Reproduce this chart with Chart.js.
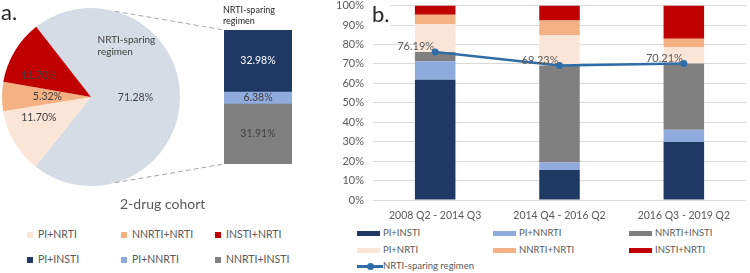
<!DOCTYPE html>
<html><head><meta charset="utf-8">
<script src="https://cdn.jsdelivr.net/npm/chart.js@4.4.1/dist/chart.umd.min.js"></script>
<style>
html,body{margin:0;padding:0;background:#fff;}
#wrap{position:relative;width:750px;height:273px;overflow:hidden;font-family:Lato,'Open Sans',sans-serif;background:#fff;}
canvas{position:absolute;}
.t{position:absolute;white-space:nowrap;line-height:1;}
.lg{position:absolute;white-space:nowrap;color:#595959;line-height:1;}
.sw{display:inline-block;vertical-align:middle;}
</style></head><body><div id="wrap">
<canvas id="pie" width="300" height="200" style="left:0;top:0"></canvas>
<canvas id="sub" width="68" height="134" style="left:224px;top:30px"></canvas>
<canvas id="bars" width="420" height="235" style="left:330px;top:-10px"></canvas>
<div class="t" style="left:1px;top:1px;font-size:22px;color:#262626">a.</div>
<div class="t" style="left:371px;top:1px;font-size:22px;color:#262626;background:#fff;padding:2px 1px">b.</div>
<div class="t" id="subTitle" style="left:223px;top:4px;font-size:9px;color:#262626;line-height:11px"></div>
<div class="t" id="cohort" style="left:120px;top:197px;font-size:14px;color:#595959"></div>
<div id="legL"></div>
<div id="legR"></div>
</div>
<script>
// ---------- data ----------
const pieLabels = ['NRTI-sparing regimen', 'PI+NRTI', 'NNRTI+NRTI', 'INSTI+NRTI'];
const pieValues = [71.28, 11.70, 5.32, 11.70];
const sparingLabels = ['PI+INSTI', 'PI+NNRTI', 'NNRTI+INSTI'];
const sparingValues = [32.98, 6.38, 31.91];
const cohortTitle = '2-drug cohort';
const sparingTitle = ['NRTI-sparing', 'regimen'];

const periods = ['2008 Q2 - 2014 Q3', '2014 Q4 - 2016 Q2', '2016 Q3 - 2019 Q2'];
const piInsti    = [61.90, 15.38, 29.79];
const piNnrti    = [9.52, 3.85, 6.38];
const nnrtiInsti = [4.76, 50.00, 34.04];
const piNrti     = [14.29, 15.38, 8.51];
const nnrtiNrti  = [4.76, 7.69, 4.26];
const instiNrti  = [4.76, 7.69, 17.02];
const sparingLine = [76.19, 69.23, 70.21];
const yTicks = [0, 10, 20, 30, 40, 50, 60, 70, 80, 90, 100];

// ---------- style ----------
const COL = {
  'NRTI-sparing regimen': '#D6DCE5', 'PI+NRTI': '#FBE5D6', 'NNRTI+NRTI': '#F4B183',
  'INSTI+NRTI': '#C00000', 'PI+INSTI': '#1F3864', 'PI+NNRTI': '#8FAADC', 'NNRTI+INSTI': '#808080'
};
const LINE_COL = '#2E6DA7';
const FONT = 'Lato, "Open Sans", sans-serif';
const SUB_BOX = {x: 224, y: 30, w: 68, h: 134};
const PIE_TUNE = [{f: 0.5, a: 0}, {f: 0.63, a: 9}, {f: 0.49, a: 0}, {f: 0.63, a: -9}];
Chart.defaults.font.family = FONT;
Chart.defaults.animation = false;

document.getElementById('subTitle').innerHTML = sparingTitle.join('<br>');
document.getElementById('cohort').textContent = cohortTitle;

// ---------- pie ----------
const pieLabelPlugin = {
  id: 'pieLabels',
  afterDraw(chart) {
    const ctx = chart.ctx;
    const meta = chart.getDatasetMeta(0);
    ctx.save();
    ctx.font = '10.5px ' + FONT;
    ctx.fillStyle = '#404040';
    ctx.textAlign = 'center';
    ctx.textBaseline = 'middle';
    let cx, cy, R;
    meta.data.forEach((arc, i) => {
      const p = arc.getProps(['x', 'y', 'startAngle', 'endAngle', 'outerRadius'], true);
      cx = p.x; cy = p.y; R = p.outerRadius;
      const t = PIE_TUNE[i];
      const mid = (p.startAngle + p.endAngle) / 2 + t.a * Math.PI / 180;
      const x = p.x + Math.cos(mid) * R * t.f, y = p.y + Math.sin(mid) * R * t.f;
      ctx.fillText(pieValues[i].toFixed(2) + '%', x, y);
      if (i === 0) {
        ctx.save();
        ctx.textAlign = 'left';
        ctx.font = '10px ' + FONT;
        ctx.fillText('NRTI-sparing', x - 38, y - 57);
        ctx.fillText('regimen', x - 38, y - 45);
        ctx.restore();
      }
    });
    // connectors to the sub bar
    const ang = 15.5 * Math.PI / 180;
    ctx.strokeStyle = '#A6A6A6';
    ctx.lineWidth = 1;
    ctx.setLineDash([5, 3]);
    ctx.beginPath();
    ctx.moveTo(cx + R * Math.sin(ang), cy - R * Math.cos(ang));
    ctx.lineTo(SUB_BOX.x, SUB_BOX.y);
    ctx.moveTo(cx + R * Math.sin(ang), cy + R * Math.cos(ang));
    ctx.lineTo(SUB_BOX.x, SUB_BOX.y + SUB_BOX.h);
    ctx.stroke();
    ctx.restore();
  }
};
new Chart(document.getElementById('pie'), {
  type: 'pie',
  data: {labels: pieLabels, datasets: [{data: pieValues, backgroundColor: pieLabels.map(l => COL[l]), borderWidth: 0, hoverOffset: 0}]},
  options: {
    responsive: false, devicePixelRatio: 1, rotation: -38, events: [],
    layout: {padding: {left: 2, top: 8, right: 120, bottom: 14}},
    plugins: {legend: {display: false}, tooltip: {enabled: false}}
  },
  plugins: [pieLabelPlugin]
});

// ---------- sub bar (bar of pie) ----------
const subOrder = [2, 1, 0]; // bottom to top
const subLabelPlugin = {
  id: 'subLabels',
  afterDraw(chart) {
    const ctx = chart.ctx;
    ctx.save();
    ctx.font = '10.5px ' + FONT;
    ctx.textAlign = 'center';
    ctx.textBaseline = 'middle';
    chart.data.datasets.forEach((ds, di) => {
      const el = chart.getDatasetMeta(di).data[0];
      const p = el.getProps(['x', 'y', 'base'], true);
      ctx.fillStyle = ds.label === 'PI+INSTI' ? '#FFFFFF' : '#404040';
      ctx.fillText(ds.data[0].toFixed(2) + '%', p.x, (p.y + p.base) / 2);
    });
    ctx.restore();
  }
};
new Chart(document.getElementById('sub'), {
  type: 'bar',
  data: {
    labels: ['NRTI-sparing regimen'],
    datasets: subOrder.map(i => ({label: sparingLabels[i], data: [sparingValues[i]], backgroundColor: COL[sparingLabels[i]], borderWidth: 0, categoryPercentage: 1, barPercentage: 1}))
  },
  options: {
    responsive: false, devicePixelRatio: 1, events: [],
    layout: {padding: 0},
    scales: {
      x: {display: false, stacked: true},
      y: {display: false, stacked: true, min: 0, max: sparingValues.reduce((a, b) => a + b, 0)}
    },
    plugins: {legend: {display: false}, tooltip: {enabled: false}}
  },
  plugins: [subLabelPlugin]
});

// ---------- stacked bars over time ----------
const barSeries = [
  ['PI+INSTI', piInsti], ['PI+NNRTI', piNnrti], ['NNRTI+INSTI', nnrtiInsti],
  ['PI+NRTI', piNrti], ['NNRTI+NRTI', nnrtiNrti], ['INSTI+NRTI', instiNrti]
];
const lineLabelPlugin = {
  id: 'lineLabels',
  afterDatasetsDraw(chart) {
    const ctx = chart.ctx;
    const di = chart.data.datasets.findIndex(d => d.type === 'line');
    const meta = chart.getDatasetMeta(di);
    ctx.save();
    ctx.font = '11px ' + FONT;
    ctx.fillStyle = '#595959';
    ctx.textAlign = 'right';
    ctx.textBaseline = 'middle';
    meta.data.forEach((pt, i) => {
      ctx.fillText(sparingLine[i].toFixed(2) + '%', pt.x - 1, pt.y - 5);
    });
    ctx.restore();
  }
};
new Chart(document.getElementById('bars'), {
  data: {
    labels: periods,
    datasets: [
      {type: 'line', label: 'NRTI-sparing regimen', data: sparingLine, stack: 'line', order: 0,
       borderColor: LINE_COL, backgroundColor: LINE_COL, borderWidth: 2.5, pointRadius: 3.5,
       pointBackgroundColor: LINE_COL, pointBorderWidth: 0, tension: 0, fill: false},
      ...barSeries.map(([name, vals]) => ({type: 'bar', label: name, data: vals, stack: 'bars', order: 1,
        backgroundColor: COL[name], borderWidth: 0, categoryPercentage: 1, barPercentage: 0.326}))
    ]
  },
  options: {
    responsive: false, devicePixelRatio: 1, events: [],
    layout: {padding: {left: 0, right: 0, top: 0, bottom: 0}},
    scales: {
      x: {stacked: true, grid: {display: false}, border: {display: false},
          ticks: {color: '#595959', font: {size: 10.5}, padding: 1, maxRotation: 0},
          afterFit(s) { s.height = 25; }},
      y: {stacked: true, min: 0, max: 100,
          afterBuildTicks(s) { s.ticks = yTicks.map(v => ({value: v})); },
          grid: {color: '#D9D9D9', lineWidth: 1, drawTicks: false}, border: {display: false},
          ticks: {color: '#595959', font: {size: 11}, padding: 9, callback: v => v + '%'},
          afterFit(s) { s.width = 43; }}
    },
    plugins: {legend: {display: false}, tooltip: {enabled: false}}
  },
  plugins: [lineLabelPlugin]
});

// ---------- legends (HTML text) ----------
const legL = document.getElementById('legL');
const leftItems = ['PI+NRTI', 'NNRTI+NRTI', 'INSTI+NRTI', 'PI+INSTI', 'PI+NNRTI', 'NNRTI+INSTI'];
leftItems.forEach((name, i) => {
  const d = document.createElement('div');
  d.className = 'lg';
  d.style.left = (27 + (i % 3) * 94) + 'px';
  d.style.top = (229 + Math.floor(i / 3) * 25) + 'px';
  d.style.fontSize = '10.5px';
  d.innerHTML = '<span class="sw" style="width:6px;height:6px;background:' + COL[name] + ';margin-right:5px"></span>' + name;
  legL.appendChild(d);
});
const legR = document.getElementById('legR');
barSeries.forEach(([name], i) => {
  const d = document.createElement('div');
  d.className = 'lg';
  d.style.left = (357 + (i % 3) * 136) + 'px';
  d.style.top = (228 + Math.floor(i / 3) * 17) + 'px';
  d.style.fontSize = '9.5px';
  d.innerHTML = '<span class="sw" style="width:23px;height:5px;background:' + COL[name] + ';margin-right:3px"></span>' + name;
  legR.appendChild(d);
});
const dl = document.createElement('div');
dl.className = 'lg';
dl.style.left = '357px'; dl.style.top = '261px'; dl.style.fontSize = '9.5px';
dl.innerHTML = '<span class="sw" style="position:relative;width:26px;height:11px;margin-right:0">' +
  '<span style="position:absolute;left:0;top:4px;width:26px;height:3px;background:' + LINE_COL + '"></span>' +
  '<span style="position:absolute;left:10px;top:2px;width:7px;height:7px;border-radius:50%;background:' + LINE_COL + '"></span></span>' +
  'NRTI-sparing regimen';
legR.appendChild(dl);
</script></body></html>
